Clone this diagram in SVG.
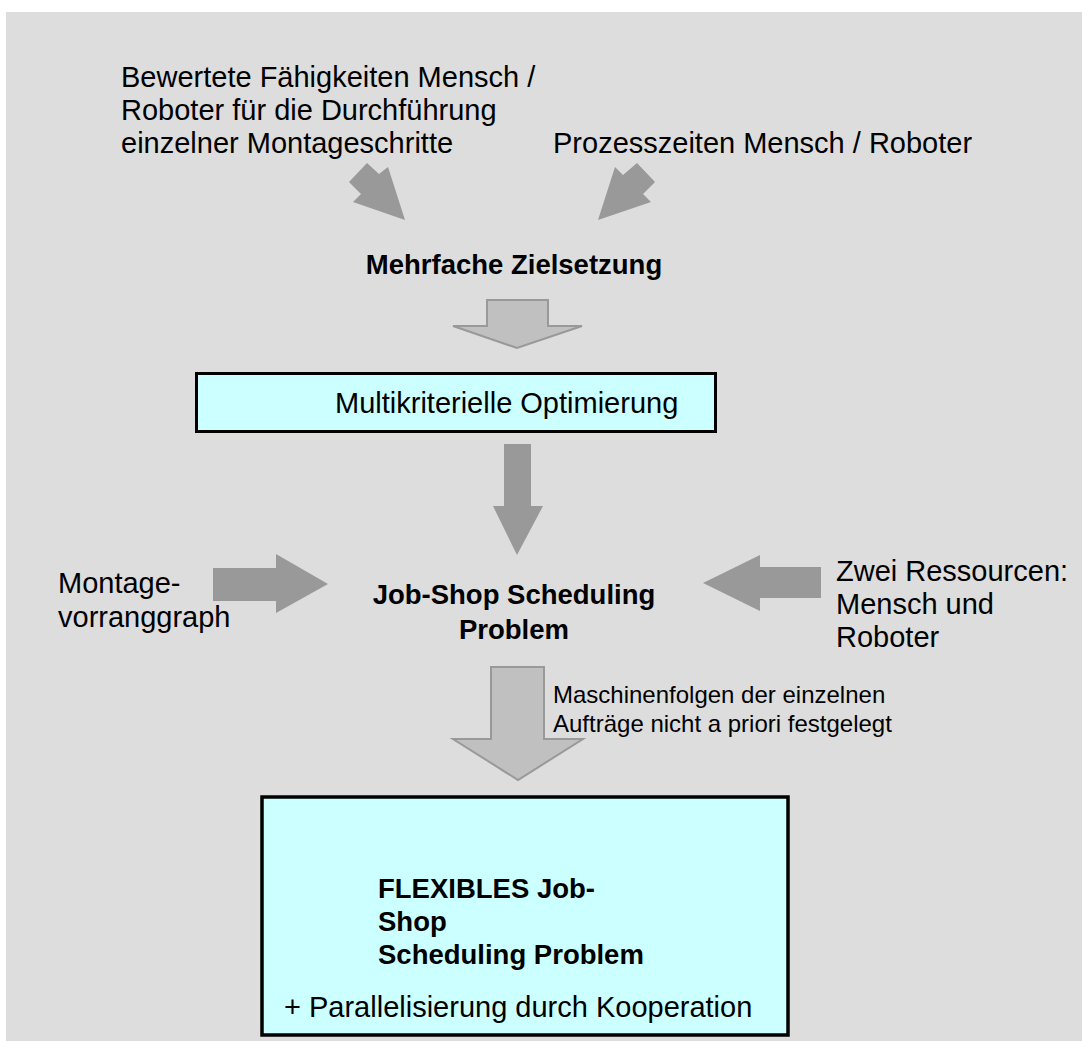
<svg xmlns="http://www.w3.org/2000/svg" width="1082" height="1041" viewBox="0 0 1082 1041">
<style>
  text { font-family: "Liberation Sans", Arial, sans-serif; fill: #000; }
  .t { font-size: 29px; }
  .b { font-size: 27.5px; font-weight: bold; }
  .s { font-size: 24px; }
  .solid { fill: #999999; stroke: none; }
  .hollow { fill: #C0C0C0; stroke: #999999; stroke-width: 2; stroke-linejoin: miter; }
  .box { fill: #CCFFFF; stroke: #000; }
</style>
<rect x="6" y="12" width="1076" height="1029" fill="#DDDDDD"/>

<g id="connectors">
  <polygon class="solid" points="349,182 367,163 379,174 388,167 405,220 353,202 361,194"/>
  <polygon class="solid" points="637,163 655,182 643,194 651,202 598,220 615,167 623,175"/>
  <path class="hollow" d="M487,300 H548 V326 H582 L517,348 L453,326 H487 Z"/>
  <path class="solid" d="M504,444 H531 V506 H543 L517,555 L493,506 H504 Z"/>
  <path class="solid" d="M213,568 H276 V554 L328,584 L276,613 V601 H213 Z"/>
  <path class="solid" d="M821,567 H760 V555 L703,583 L760,611 V598 H821 Z"/>
  <path class="hollow" d="M491,667 H544 V739 H583 L518,780 L453,739 H491 Z"/>
</g>

<g id="node-faehigkeiten">
  <text class="t" x="121" y="87">Bewertete Fähigkeiten Mensch /</text>
  <text class="t" x="121" y="120">Roboter für die Durchführung</text>
  <text class="t" x="121" y="153">einzelner Montageschritte</text>
</g>
<g id="node-prozesszeiten">
  <text class="t" x="553" y="153">Prozesszeiten Mensch / Roboter</text>
</g>
<g id="node-zielsetzung">
  <text class="b" x="514" y="274" text-anchor="middle">Mehrfache Zielsetzung</text>
</g>
<g id="node-optimierung">
  <rect class="box" x="196.5" y="373.5" width="519" height="58" stroke-width="3"/>
  <text class="t" x="335" y="413">Multikriterielle Optimierung</text>
</g>
<g id="node-jobshop">
  <text class="b" x="514" y="604" text-anchor="middle">Job-Shop Scheduling</text>
  <text class="b" x="514" y="639" text-anchor="middle">Problem</text>
</g>
<g id="node-vorranggraph">
  <text class="t" x="58" y="593">Montage-</text>
  <text class="t" x="58" y="627">vorranggraph</text>
</g>
<g id="node-ressourcen">
  <text class="t" x="836" y="581">Zwei Ressourcen:</text>
  <text class="t" x="836" y="614">Mensch und</text>
  <text class="t" x="836" y="647">Roboter</text>
</g>
<g id="label-maschinenfolgen">
  <text class="s" x="553" y="703">Maschinenfolgen der einzelnen</text>
  <text class="s" x="553" y="732">Aufträge nicht a priori festgelegt</text>
</g>
<g id="node-flexibles">
  <rect class="box" x="262" y="797" width="526" height="238" stroke-width="3.5"/>
  <text class="b" x="378" y="898">FLEXIBLES Job-</text>
  <text class="b" x="378" y="931">Shop</text>
  <text class="b" x="378" y="964">Scheduling Problem</text>
  <text class="t" x="284" y="1017">+ Parallelisierung durch Kooperation</text>
</g>
</svg>
